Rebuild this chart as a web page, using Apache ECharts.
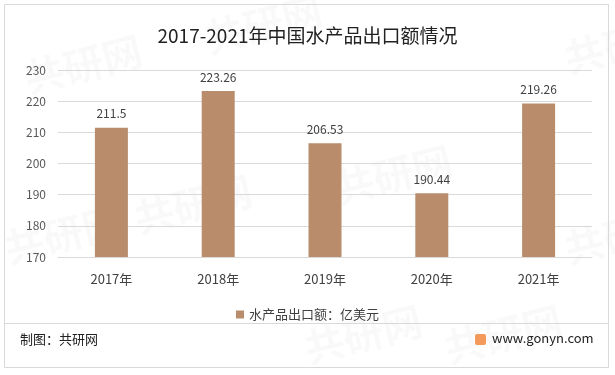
<!DOCTYPE html>
<html>
<head>
<meta charset="utf-8">
<script src="https://cdn.jsdelivr.net/npm/echarts@6/dist/echarts.min.js"></script>
<style>
html,body{margin:0;padding:0;background:#fff;}
#c{width:615px;height:375px;}
</style>
</head>
<body>
<div id="c"></div>
<script>
const categories = ['2017年','2018年','2019年','2020年','2021年'];
const values = [211.5, 223.26, 206.53, 190.44, 219.26];
const labels = ['211.5','223.26','206.53','190.44','219.26'];
const seriesName = '水产品出口额：亿美元';
const titleText = '2017-2021年中国水产品出口额情况';
const yMin = 170, yMax = 230, yInterval = 10;

const font = '"Noto Sans CJK SC", "Microsoft YaHei", sans-serif';
const chart = echarts.init(document.getElementById('c'), null, {renderer:'canvas'});

const wm = [];
const wmPos = [[20,60],[130,200],[200,20],[330,170],[440,330],[560,40],[0,230],[560,230],[300,330]];
wmPos.forEach(p => {
  wm.push({type:'text', x:p[0], y:p[1], rotation:0.25, silent:true, z:-1,
    style:{text:'共研网', font:'bold 40px ' + font, fill:'rgba(0,0,0,0.022)'}});
});

chart.setOption({
  backgroundColor:'#ffffff',
  animation:false,
  title:{text:titleText, left:'center', top:21,
    textStyle:{fontFamily:font, fontSize:19, fontWeight:'normal', color:'#222'}},
  grid:{left:58, right:23, top:70, bottom:118},
  legend:{bottom:49, left:'center', itemWidth:8, itemHeight:8, itemGap:6,
    icon:'rect',
    textStyle:{fontFamily:font, fontSize:13, color:'#404040'},
    data:[seriesName]},
  xAxis:{type:'category', data:categories,
    axisLine:{show:true, lineStyle:{color:'#d9d9d9'}},
    axisTick:{show:false},
    axisLabel:{fontFamily:font, fontSize:13, color:'#404040', margin:16}},
  yAxis:{type:'value', min:yMin, max:yMax, interval:yInterval,
    axisLine:{show:false}, axisTick:{show:false},
    axisLabel:{fontFamily:font, fontSize:12, color:'#595959', margin:12},
    splitLine:{lineStyle:{color:'#d9d9d9'}}},
  series:[{
    name:seriesName, type:'bar', data:values, barWidth:33,
    itemStyle:{color:'#B98D6C'},
    label:{show:true, position:'top', distance:8,
      formatter:p => labels[p.dataIndex],
      fontFamily:font, fontSize:12, color:'#404040'}
  }],
  graphic:[
    ...wm,
    {type:'rect', shape:{x:4.5, y:4.5, width:604, height:363}, silent:true,
      style:{fill:'none', stroke:'#d9d9d9', lineWidth:1}},
    {type:'line', shape:{x1:5, y1:323.5, x2:608, y2:323.5}, silent:true,
      style:{stroke:'#d9d9d9', lineWidth:1}},
    {type:'text', x:20, y:333, style:{text:'制图：共研网', font:'13px ' + font, fill:'#222'}},
    {type:'rect', shape:{x:475, y:334, width:11, height:11, r:2}, style:{fill:'#F39A5B'}},
    {type:'text', x:492, y:332, style:{text:'www.gonyn.com', font:'13px ' + font, fill:'#222'}}
  ]
});
</script>
</body>
</html>
